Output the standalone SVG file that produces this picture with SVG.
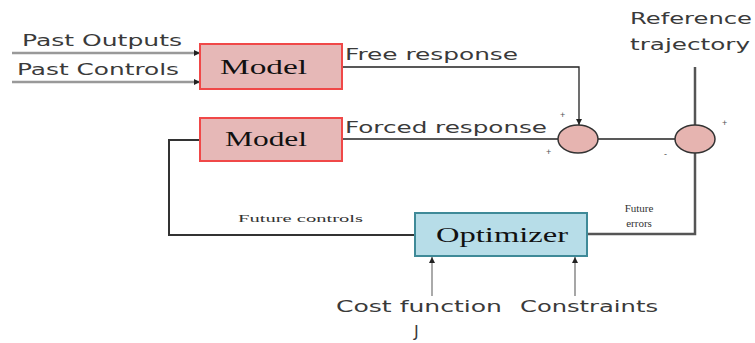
<svg xmlns="http://www.w3.org/2000/svg" width="755" height="343" viewBox="0 0 755 343">
<style>
text{}
.lbl{font-family:"DejaVu Sans","Liberation Sans",sans-serif;font-size:16px;fill:#3a3a3a}
.box{font-family:"Liberation Serif",serif;font-size:21px;fill:#111}
.sm{font-family:"Liberation Serif",serif;font-size:11px;fill:#333}
.sign{font-family:"Liberation Sans",sans-serif;font-size:9px;fill:#555}
.model{fill:#e6b8b7;stroke:#f04848;stroke-width:2}
.opt{fill:#b7dde8;stroke:#3f8a98;stroke-width:2}
.sum{fill:#e6b4b0;stroke:#333;stroke-width:1.5}
</style>
<defs>
<marker id="ah" viewBox="0 0 10 10" refX="10" refY="5" markerWidth="6" markerHeight="6" orient="auto" markerUnits="userSpaceOnUse">
<path d="M0,0 L10,5 L0,10 z" fill="#222"/>
</marker>
</defs>
<g id="connectors" fill="none">
<line x1="12" y1="53" x2="200" y2="53" stroke="#999" stroke-width="2.5" marker-end="url(#ah)"/>
<line x1="12" y1="82" x2="200" y2="82" stroke="#999" stroke-width="2.5" marker-end="url(#ah)"/>
<polyline points="342,67 579,67 579,125" stroke="#222" stroke-width="1.3" marker-end="url(#ah)"/>
<line x1="342" y1="139" x2="558" y2="139" stroke="#222" stroke-width="1.5"/>
<line x1="598" y1="139" x2="675" y2="139" stroke="#222" stroke-width="1.5"/>
<line x1="695" y1="67" x2="695" y2="125" stroke="#555" stroke-width="2.5"/>
<polyline points="695,153 695,234 587,234" stroke="#555" stroke-width="2.5"/>
<polyline points="200,140 169,140 169,235 415,235" stroke="#333" stroke-width="2"/>
<line x1="432" y1="296" x2="432" y2="257" stroke="#aaa" stroke-width="2" marker-end="url(#ah)"/>
<line x1="575" y1="296" x2="575" y2="257" stroke="#777" stroke-width="1.3" marker-end="url(#ah)"/>
</g>
<g id="model1">
<rect x="200" y="44" width="142" height="45" class="model"/>
<text x="220" y="74" class="box" textLength="87" lengthAdjust="spacingAndGlyphs">Model</text>
</g>
<g id="model2">
<rect x="200" y="118" width="142" height="43" class="model"/>
<text x="225" y="146" class="box" textLength="82" lengthAdjust="spacingAndGlyphs">Model</text>
</g>
<g id="optimizer">
<rect x="415" y="213" width="172" height="43" class="opt"/>
<text x="436" y="242" class="box" textLength="132" lengthAdjust="spacingAndGlyphs">Optimizer</text>
</g>
<g id="sum1">
<ellipse cx="578" cy="139" rx="20" ry="14" class="sum"/>
</g>
<g id="sum2">
<ellipse cx="695" cy="139" rx="20" ry="14" class="sum"/>
</g>
<g id="labels">
<text x="22" y="46" class="lbl" textLength="160" lengthAdjust="spacingAndGlyphs">Past Outputs</text>
<text x="17" y="75" class="lbl" textLength="162" lengthAdjust="spacingAndGlyphs">Past Controls</text>
<text x="345" y="60" class="lbl" textLength="173" lengthAdjust="spacingAndGlyphs">Free response</text>
<text x="345" y="133" class="lbl" textLength="202" lengthAdjust="spacingAndGlyphs">Forced response</text>
<text x="630" y="24" class="lbl" textLength="122" lengthAdjust="spacingAndGlyphs">Reference</text>
<text x="630" y="50" class="lbl" textLength="120" lengthAdjust="spacingAndGlyphs">trajectory</text>
<text x="238" y="222" class="sm" textLength="125" lengthAdjust="spacingAndGlyphs">Future controls</text>
<text x="639" y="212" class="sm" text-anchor="middle">Future</text>
<text x="639" y="227" class="sm" text-anchor="middle">errors</text>
<text x="336" y="312" class="lbl" textLength="166" lengthAdjust="spacingAndGlyphs">Cost function</text>
<text x="414" y="337" class="lbl">J</text>
<text x="520" y="312" class="lbl" textLength="138" lengthAdjust="spacingAndGlyphs">Constraints</text>
<text x="560" y="118" class="sign">+</text>
<text x="546" y="155" class="sign">+</text>
<text x="664" y="157" class="sign">-</text>
<text x="722" y="126" class="sign">+</text>
</g>
</svg>
